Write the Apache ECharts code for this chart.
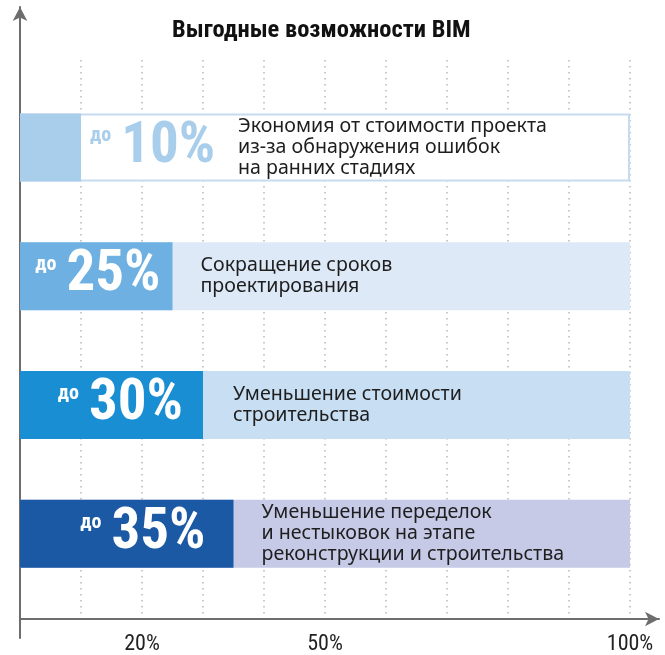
<!DOCTYPE html>
<html><head><meta charset="utf-8">
<script src="https://cdn.jsdelivr.net/npm/echarts@6/dist/echarts.min.js"></script>
<style>html,body{margin:0;padding:0;background:#fff}#c{width:665px;height:655px}</style>
</head><body><div id="c"></div>
<script>
// ---- data ----
const chartTitle = 'Выгодные возможности BIM';
const categories = [
  'Экономия от стоимости проекта\nиз-за обнаружения ошибок\nна ранних стадиях',
  'Сокращение сроков\nпроектирования',
  'Уменьшение стоимости\nстроительства',
  'Уменьшение переделок\nи нестыковок на этапе\nреконструкции и строительства'
];
const percentValues = [10, 25, 30, 35];
const fullValues = [100, 100, 100, 100];
const tickLabels = [20, 50, 100];
const prefixText = 'до';

// ---- styles ----
const fgColors = ['#a9ceec', '#6db0e1', '#1a8ed3', '#1b59a5'];
const bgColors = ['#ffffff', '#dde9f7', '#c8def2', '#c6cae6'];
const bgBorders = ['#c5dbf0', null, null, null];
const bigLabelColors = ['#a9ceec', '#ffffff', '#ffffff', '#ffffff'];
const bigLabelPos = ['right', 'insideRight', 'insideRight', 'insideRight'];
const bigLabelDist = [9, 12, 20, 28];
const descDist = [157, 28, 30, 28];

const cond = '"Roboto Condensed", "Open Sans Condensed", sans-serif';
const body = '"Noto Sans", "Open Sans", sans-serif';
const axisColor = '#6d6d6d';

const chart = echarts.init(document.getElementById('c'), null, {renderer: 'canvas'});

const option = {
  animation: false,
  backgroundColor: '#ffffff',
  title: {
    text: chartTitle, left: 167, top: 13,
    textStyle: {fontFamily: cond, fontSize: 24.5, fontWeight: 'bold', color: '#111'}
  },
  grid: [
    {left: 20, right: 6, top: 5, bottom: 36},      // x axis line
    {left: 20, right: 13, top: 7, bottom: 17},     // y axis line
    {left: 20, right: 35, top: 60, bottom: 38},    // dotted grid
    {left: 20, right: 35, top: 83, bottom: 57}     // bars
  ],
  xAxis: [
    {gridIndex: 0, type: 'value', min: 0, max: 104.75,
      axisLine: {show: true, onZero: false, symbol: ['none', 'arrow'], symbolSize: [11, 14],
        lineStyle: {color: axisColor, width: 2}},
      axisTick: {show: false}, splitLine: {show: false},
      axisLabel: {show: true, customValues: tickLabels, formatter: v => tickLabels.includes(v) ? v + '%' : '',
        margin: 14, fontFamily: cond, fontSize: 22, color: '#222'}},
    {gridIndex: 1, type: 'value', show: false},
    {gridIndex: 2, type: 'value', min: 0, max: 100, interval: 10,
      axisLine: {show: false}, axisTick: {show: false}, axisLabel: {show: false},
      splitLine: {show: true, lineStyle: {type: [1.5, 4.5], color: '#b8b8b8', width: 1.5}}},
    {gridIndex: 3, type: 'value', min: 0, max: 100, show: false}
  ],
  yAxis: [
    {gridIndex: 0, type: 'value', show: false},
    {gridIndex: 1, type: 'value', min: 0, max: 1,
      axisLine: {show: true, onZero: false, symbol: ['none', 'arrow'], symbolSize: [11, 14],
        lineStyle: {color: axisColor, width: 2}},
      axisTick: {show: false}, axisLabel: {show: false}, splitLine: {show: false}},
    {gridIndex: 2, type: 'value', show: false},
    {gridIndex: 3, type: 'category', data: categories, inverse: true, show: false}
  ],
  series: [
    {
      name: 'bg', type: 'bar', xAxisIndex: 3, yAxisIndex: 3, barWidth: 68, barGap: '-100%', silent: true, z: 1,
      data: fullValues.map((v, i) => ({value: v, itemStyle: {color: bgColors[i],
        borderColor: bgBorders[i] || bgColors[i], borderWidth: bgBorders[i] ? 2 : 0}}))
    },
    {
      name: 'fg', type: 'bar', xAxisIndex: 3, yAxisIndex: 3, barWidth: 68, barGap: '-100%', silent: true, z: 3,
      data: percentValues.map((v, i) => ({
        value: v, itemStyle: {color: fgColors[i]},
        label: {show: true, position: bigLabelPos[i], distance: bigLabelDist[i], color: bigLabelColors[i],
          formatter: '{s|' + prefixText + '}{b|' + v + '%}',
          rich: {
            s: {fontFamily: cond, fontSize: 20, fontWeight: 'bold', color: bigLabelColors[i],
              lineHeight: 22, padding: [0, 10, 22, 0]},
            b: {fontFamily: cond, fontSize: 57, fontWeight: 'bold', color: bigLabelColors[i], lineHeight: 58}
          }}
      }))
    },
    {
      name: 'desc', type: 'bar', xAxisIndex: 3, yAxisIndex: 3, barWidth: 68, barGap: '-100%', silent: true, z: 4,
      itemStyle: {color: 'rgba(0,0,0,0)'},
      data: percentValues.map((v, i) => ({
        value: v,
        label: {show: true, position: 'right', distance: descDist[i], align: 'left',
          formatter: () => categories[i],
          fontFamily: body, fontSize: 19.6, lineHeight: 21, color: '#1e1e1e'}
      }))
    }
  ]
};
chart.setOption(option);
</script>
</body></html>
